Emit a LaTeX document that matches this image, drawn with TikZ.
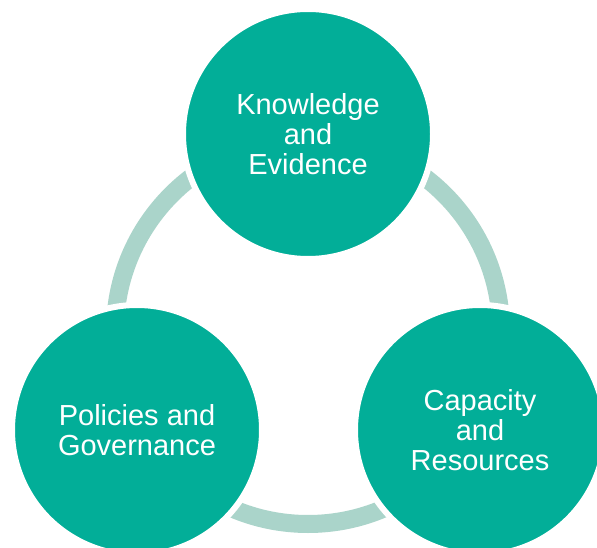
\documentclass[tikz,border=0pt]{standalone}
\usepackage{fontspec}
\setmainfont{Liberation Sans}
\definecolor{teal1}{RGB}{2,174,152}
\definecolor{ringc}{RGB}{170,212,202}
\tikzset{
  circ/.style={circle, fill=teal1, draw=white, line width=6pt, minimum size=250pt, inner sep=0pt,
    text=white, align=center, font=\fontsize{29}{30}\selectfont},
  ringline/.style={draw=ringc, line width=18pt}
}
\begin{document}
\begin{tikzpicture}[x=1pt,y=-1pt]
\useasboundingbox (0,0) rectangle (597,548);
\clip (0,0) rectangle (597,548);
\fill[white] (0,0) rectangle (597,548);
\coordinate (ctr) at (308,331);
\draw[ringline] (ctr) circle[radius=193pt];
\node[circ] (know) at (308,134) {Knowledge\\and\\Evidence};
\node[circ] (pol) at (137,430) {Policies and\\Governance};
\node[circ] (cap) at (480,430) {Capacity\\and\\Resources};
\end{tikzpicture}
\end{document}
